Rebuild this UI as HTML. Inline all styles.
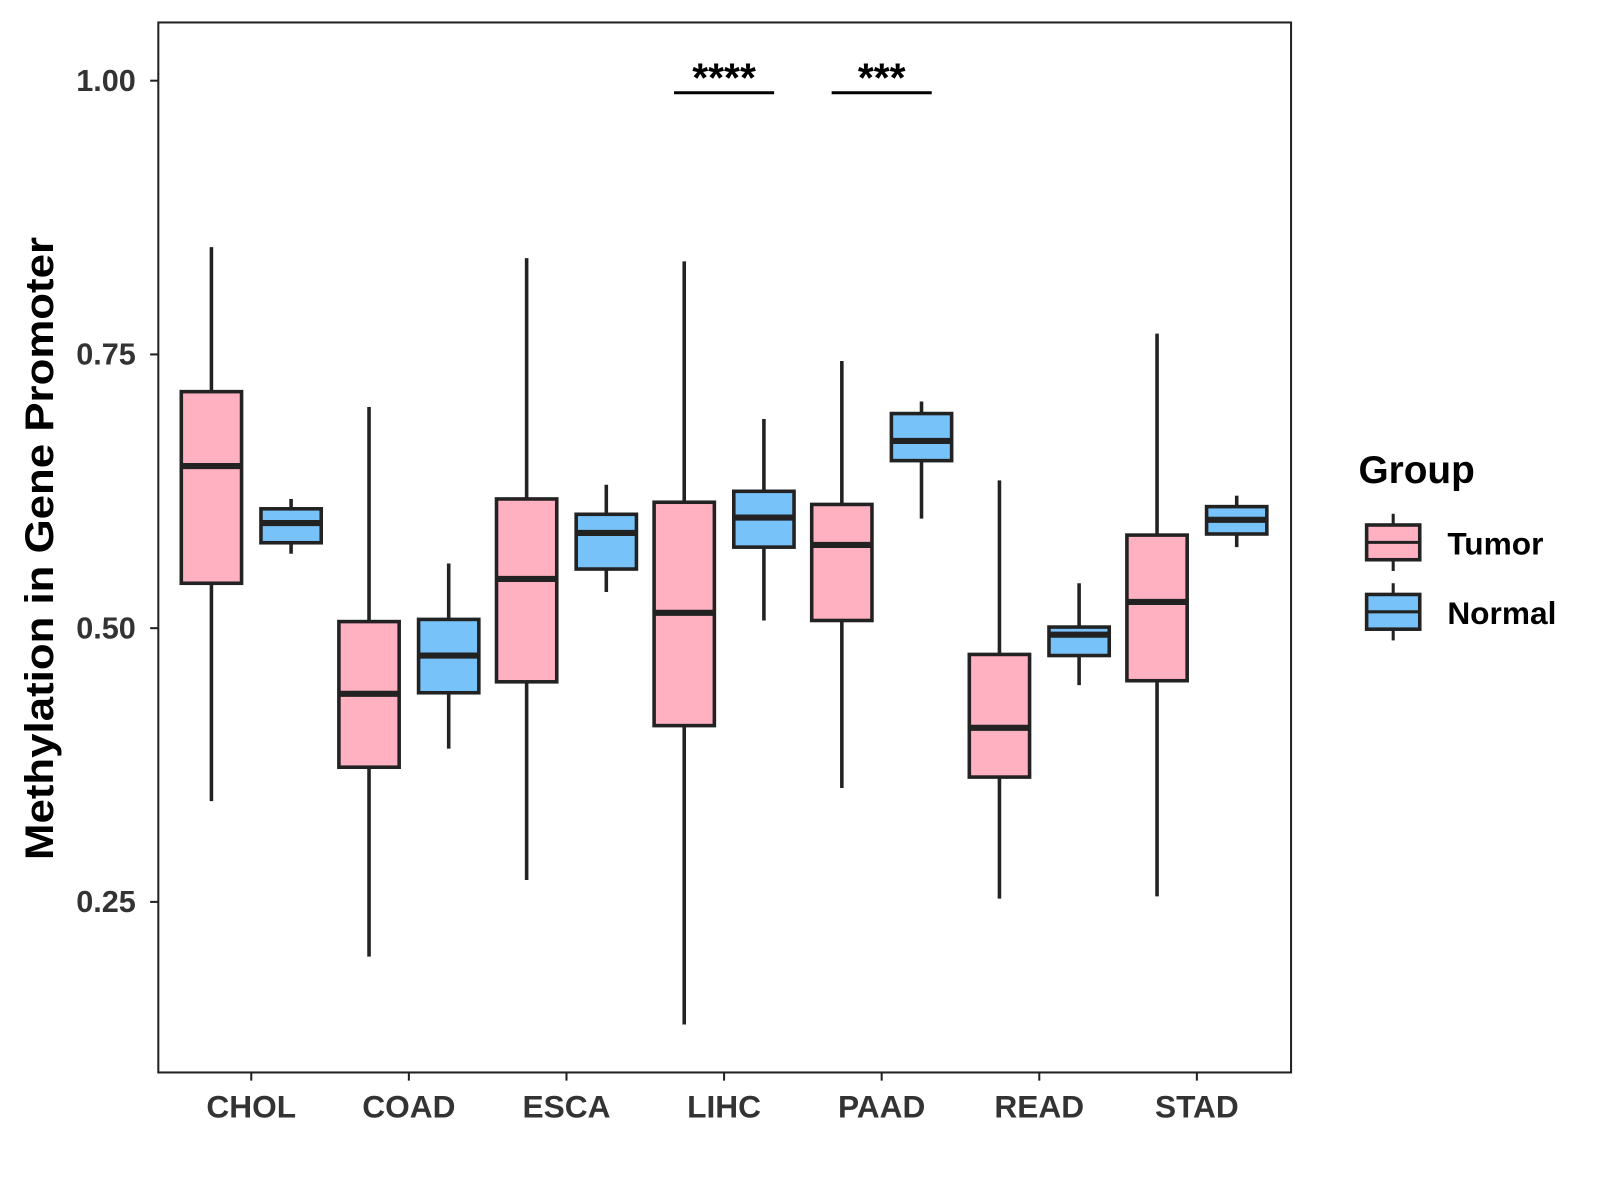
<!DOCTYPE html>
<html><head><meta charset="utf-8"><style>body{margin:0;background:#fff}svg{display:block;font-family:"Liberation Sans",Arial,sans-serif}</style></head>
<body>
<svg id="chart" width="1600" height="1200" viewBox="0 0 1600 1200">
<rect x="0" y="0" width="1600" height="1200" fill="#fff"/>
<g transform="scale(1.0214)">
<g id="plot"></g>
<rect x="155" y="22" width="1109" height="1028" fill="none" stroke="#222" stroke-width="2"/>
<text transform="translate(52,537) rotate(-90)" text-anchor="middle" font-size="39" font-weight="bold" fill="#000" textLength="610" lengthAdjust="spacingAndGlyphs">Methylation in Gene Promoter</text>
<g>
<text x="1330" y="473" font-size="38" font-weight="bold">Group</text>
<g>
<line x1="1364" y1="503" x2="1364" y2="559" stroke="#222" stroke-width="3"/>
<rect x="1338" y="514" width="52" height="34" fill="#FFB0C1" stroke="#222" stroke-width="3.5"/>
<line x1="1338" y1="531" x2="1390" y2="531" stroke="#222" stroke-width="3"/>
<text x="1417" y="543" font-size="31" font-weight="bold">Tumor</text></g>
<g>
<line x1="1364" y1="571" x2="1364" y2="627" stroke="#222" stroke-width="3"/>
<rect x="1338" y="582" width="52" height="34" fill="#77C2F8" stroke="#222" stroke-width="3.5"/>
<line x1="1338" y1="599" x2="1390" y2="599" stroke="#222" stroke-width="3"/>
<text x="1417" y="611" font-size="31" font-weight="bold">Normal</text></g>
</g>
</g>
</svg>
<script>
const categories=["CHOL","COAD","ESCA","LIHC","PAAD","READ","STAD"];
// [low, q1, median, q3, high]
const tumorStats=[[0.342,0.541,0.648,0.716,0.848],[0.200,0.373,0.440,0.506,0.702],[0.270,0.451,0.545,0.618,0.838],[0.138,0.411,0.514,0.615,0.835],[0.354,0.507,0.576,0.613,0.744],[0.253,0.364,0.409,0.476,0.635],[0.255,0.452,0.524,0.585,0.769]];
const normalStats=[[0.568,0.578,0.596,0.609,0.618],[0.390,0.441,0.475,0.508,0.559],[0.533,0.554,0.587,0.604,0.631],[0.507,0.574,0.601,0.625,0.691],[0.600,0.653,0.671,0.696,0.707],[0.448,0.475,0.494,0.501,0.541],[0.574,0.586,0.599,0.611,0.621]];
const yTicks=[0.25,0.5,0.75,1.0];
const yTickLabels=["0.25","0.50","0.75","1.00"];
const sigCategories=["LIHC","PAAD"];
const sigLabels=["****","***"];
const sigLevel=0.989;
const NS="http://www.w3.org/2000/svg";
const g=document.getElementById('plot');
const yv=v=>79+(1-v)*1072;
const xc=i=>246+i*154.3;
function mk(t,a,p){const e=document.createElementNS(NS,t);for(const k in a)e.setAttribute(k,a[k]);(p||g).appendChild(e);return e;}
yTicks.forEach((v,i)=>{
 const l=mk('line',{x1:147,x2:155,y1:yv(v),y2:yv(v),stroke:'#222','stroke-width':2});
 
 
 const t=mk('text',{x:133,y:yv(v)+10,'text-anchor':'end','font-size':30,'font-weight':'bold',fill:'#333'});
 t.textContent=yTickLabels[i];
 
 
});
categories.forEach((c,i)=>{
 const l=mk('line',{x1:xc(i),x2:xc(i),y1:1050,y2:1058,stroke:'#222','stroke-width':2});
 
 
 const t=mk('text',{x:xc(i),y:1094,'text-anchor':'middle','font-size':31,'font-weight':'bold',fill:'#333'});
 t.textContent=c;
 
 
});
function box(cx,s,fill,name){
 const bg=mk('g',{});
 
 
 mk('line',{x1:cx,x2:cx,y1:yv(s[4]),y2:yv(s[0]),stroke:'#222','stroke-width':3.5},bg);
 mk('rect',{x:cx-29.5,y:yv(s[3]),width:59,height:yv(s[1])-yv(s[3]),fill:fill,stroke:'#222','stroke-width':3.5},bg);
 mk('line',{x1:cx-29.5,x2:cx+29.5,y1:yv(s[2]),y2:yv(s[2]),stroke:'#222','stroke-width':6},bg);
}
categories.forEach((c,i)=>{
 box(xc(i)-39,tumorStats[i],'#FFB0C1','box-tumor-'+c.toLowerCase());
 box(xc(i)+39,normalStats[i],'#77C2F8','box-normal-'+c.toLowerCase());
});
sigCategories.forEach((c,k)=>{
 const i=categories.indexOf(c);
 const l=mk('line',{x1:xc(i)-49,x2:xc(i)+49,y1:yv(sigLevel),y2:yv(sigLevel),stroke:'#000','stroke-width':3});
 
 
 const t=mk('text',{x:xc(i),y:yv(sigLevel)-1,'text-anchor':'middle','font-size':40,'font-weight':'bold',fill:'#000'});
 t.textContent=sigLabels[k];
 
 
});
</script>
</body></html>
